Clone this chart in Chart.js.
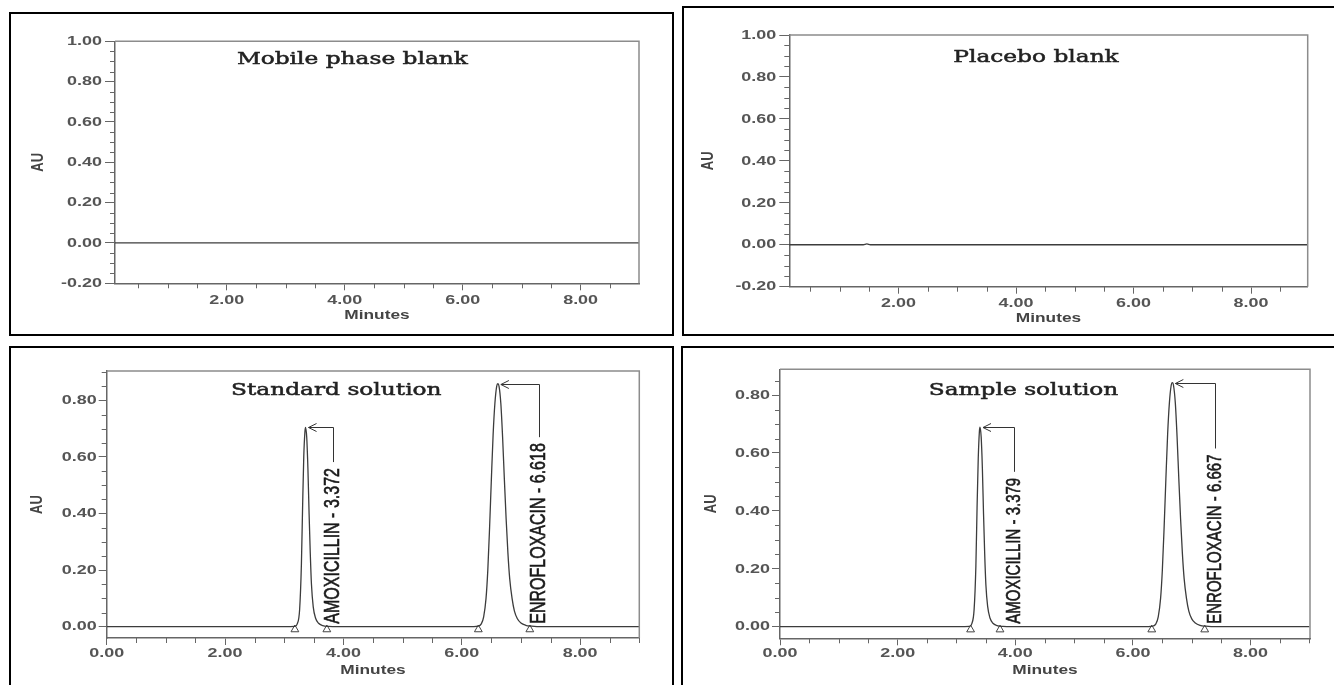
<!DOCTYPE html>
<html>
<head>
<meta charset="utf-8">
<title>Chromatograms</title>
<script src="https://cdn.jsdelivr.net/npm/chart.js@4/dist/chart.umd.min.js"></script>
<style>
  html, body { margin: 0; padding: 0; background: #fff; overflow: hidden; }
  body { width: 1334px; height: 685px; position: relative; }
  canvas { position: absolute; }
  .frame { position: absolute; border: 2px solid #000; box-sizing: border-box; pointer-events: none; }
</style>
</head>
<body>
<canvas id="c1" width="665" height="324" style="left:9px;top:12px"></canvas>
<canvas id="c2" width="652" height="329" style="left:682px;top:6px"></canvas>
<canvas id="c3" width="665" height="339" style="left:9px;top:346px"></canvas>
<canvas id="c4" width="653" height="339" style="left:681px;top:346px"></canvas>
<div class="frame" style="left:9px;top:12px;width:665px;height:324px"></div>
<div class="frame" style="left:682px;top:6px;width:700px;height:330px"></div>
<div class="frame" style="left:9px;top:346px;width:665px;height:400px"></div>
<div class="frame" style="left:681px;top:346px;width:700px;height:400px"></div>
<script>
// --- data -------------------------------------------------------------------

// tick labels
const TOP_X_TICKS = [2, 4, 6, 8];
const BOT_X_TICKS = [0, 2, 4, 6, 8];
const TOP_Y_TICKS = [-0.2, 0, 0.2, 0.4, 0.6, 0.8, 1.0];
const BOT_Y_TICKS = [0, 0.2, 0.4, 0.6, 0.8];

// mobile phase blank: flat trace
const MP_T  = [0, 9.0];
const MP_AU = [0, 0];

// placebo blank: flat with one tiny blip
const PB_T  = [0, 1.40, 1.46, 1.52, 9.0];
const PB_AU = [0, 0, 0.004, 0, 0];

// standard solution
const STD_T = [0, 3.00, 3.18, 3.22, 3.26, 3.29, 3.31, 3.33, 3.35, 3.36, 3.38, 3.40, 3.42, 3.44, 3.46, 3.49, 3.53, 3.58, 3.65, 3.75, 3.90,
  6.10, 6.28, 6.33, 6.37, 6.41, 6.44, 6.47, 6.50, 6.53, 6.56, 6.59, 6.61, 6.63, 6.66, 6.69, 6.72, 6.75, 6.78, 6.81, 6.85, 6.89, 6.94, 7.00, 7.08, 7.18, 7.35, 9.0];
const STD_AU = [0, 0, 0.001, 0.01, 0.06, 0.22, 0.42, 0.60, 0.69, 0.705, 0.67, 0.56, 0.40, 0.26, 0.15, 0.07, 0.03, 0.012, 0.004, 0.001, 0,
  0, 0.002, 0.01, 0.035, 0.10, 0.20, 0.35, 0.52, 0.68, 0.79, 0.85, 0.859, 0.85, 0.79, 0.67, 0.52, 0.38, 0.26, 0.17, 0.10, 0.055, 0.028, 0.013, 0.005, 0.002, 0, 0];
const STD_MARKS = [3.18, 3.72, 6.28, 7.15];
const STD_RT    = ['3.372', '6.618'];

// sample solution
const SMP_T = [0, 3.04, 3.22, 3.26, 3.30, 3.33, 3.35, 3.37, 3.39, 3.40, 3.42, 3.44, 3.46, 3.48, 3.50, 3.53, 3.57, 3.62, 3.69, 3.79, 3.94,
  6.16, 6.34, 6.39, 6.43, 6.47, 6.50, 6.53, 6.56, 6.59, 6.62, 6.65, 6.67, 6.69, 6.72, 6.75, 6.78, 6.81, 6.84, 6.87, 6.91, 6.95, 7.00, 7.06, 7.14, 7.24, 7.41, 9.0];
const SMP_AU = [0, 0, 0.001, 0.01, 0.06, 0.21, 0.41, 0.58, 0.675, 0.689, 0.655, 0.55, 0.39, 0.25, 0.145, 0.07, 0.03, 0.012, 0.004, 0.001, 0,
  0, 0.002, 0.01, 0.034, 0.098, 0.196, 0.343, 0.51, 0.666, 0.774, 0.833, 0.843, 0.833, 0.774, 0.657, 0.51, 0.372, 0.255, 0.167, 0.098, 0.054, 0.027, 0.013, 0.005, 0.002, 0, 0];
const SMP_MARKS = [3.24, 3.74, 6.32, 7.22];
const SMP_RT    = ['3.379', '6.667'];

const PEAK_NAMES = ['AMOXICILLIN', 'ENROFLOXACIN'];
const MARK_AU = -0.01;

// --- styles -----------------------------------------------------------------

const SX       = 1.33;               // the source picture is stretched sideways
const AXIS     = '#666';
const FRAME    = '#8c8c8c';
const TRACE    = '#3c3c3c';
const LABEL    = '#555';
const TICK_FONT  = 'bold 13.5px "Liberation Sans", Arial, sans-serif';
const AXIS_FONT  = 'bold 13px "Liberation Sans", Arial, sans-serif';
const TITLE_FONT = '17.5px "DejaVu Serif", serif';
const X_MINOR = 0.5, Y_MINOR = 0.05, MINOR_LEN = 5;

function stretchText(ctx, text, x, y, o) {
	ctx.save();
	ctx.font = o.font;
	ctx.fillStyle = o.color;
	ctx.textAlign = o.align || 'center';
	ctx.textBaseline = o.baseline || 'middle';
	ctx.translate(x, y);
	ctx.scale(SX, 1);
	if (o.rotate) ctx.rotate(-Math.PI / 2);
	ctx.fillText(text, 0, 0);
	if (o.heavy) {                      // slight emboldening like the scanned print
		ctx.strokeStyle = o.color;
		ctx.lineWidth = o.heavy;
		ctx.strokeText(text, 0, 0);
	}
	ctx.restore();
}

function isMajor(list, v) { return list.some(m => Math.abs(m - v) < 1e-6); }

function apexOf(t, au, lo, hi) {
	let best = { t: lo, au: -1 };
	t.forEach((x, i) => { if (x >= lo && x <= hi && au[i] > best.au) best = { t: x, au: au[i] }; });
	return best;
}

// --- decorations drawn over each chart ----------------------------------------

function decor(p) {
	return {
		id: 'decor-' + p.id,
		afterDraw(chart) {
			const ctx = chart.ctx, a = chart.chartArea;
			const xs = chart.scales.x, ys = chart.scales.y;

			ctx.save();
			// top and right frame of the plot
			ctx.strokeStyle = FRAME; ctx.lineWidth = 1.5;
			ctx.beginPath();
			ctx.moveTo(a.left, a.top); ctx.lineTo(a.right, a.top); ctx.lineTo(a.right, a.bottom);
			ctx.stroke();

			// minor ticks
			ctx.strokeStyle = AXIS; ctx.lineWidth = 1;
			ctx.beginPath();
			for (let k = Math.ceil(p.xMin / X_MINOR); k * X_MINOR <= p.xMax + 1e-9; k++) {
				const v = k * X_MINOR;
				if (isMajor(p.xTicks, v)) continue;
				const px = Math.round(xs.getPixelForValue(v)) + 0.5;
				ctx.moveTo(px, a.bottom); ctx.lineTo(px, a.bottom + MINOR_LEN);
			}
			for (let k = Math.ceil(p.yMin / Y_MINOR - 1e-9); k * Y_MINOR <= p.yMax + 1e-9; k++) {
				const v = Math.round(k * Y_MINOR * 1000) / 1000;
				if (isMajor(p.yTicks, v)) continue;
				const py = Math.round(ys.getPixelForValue(v)) + 0.5;
				ctx.moveTo(a.left - MINOR_LEN, py); ctx.lineTo(a.left, py);
			}
			ctx.stroke();
			ctx.restore();

			// tick labels
			p.xTicks.filter(v => v >= p.xMin && v <= p.xMax).forEach(v => {
				stretchText(ctx, v.toFixed(2), xs.getPixelForValue(v), a.bottom + p.xLabelDy, { font: TICK_FONT, color: LABEL });
			});
			p.yTicks.forEach(v => {
				stretchText(ctx, v.toFixed(2), a.left - p.yLabelGap, ys.getPixelForValue(v), { font: TICK_FONT, color: LABEL, align: 'right' });
			});

			// axis titles
			stretchText(ctx, 'Minutes', (a.left + a.right) / 2, a.bottom + 32, { font: AXIS_FONT, color: '#444' });
			stretchText(ctx, 'AU', a.left + p.auDx, (a.top + a.bottom) / 2, { font: AXIS_FONT, color: '#444', rotate: true });

			// panel title
			stretchText(ctx, p.title, xs.getPixelForValue(p.titleT), a.top + p.titleDy, { font: TITLE_FONT, color: '#222', heavy: 0.5 });

			// peak labels with leader arrows
			(p.rt || []).forEach((rt, i) => {
				const pk = apexOf(p.t, p.au, p.marks[2 * i], p.marks[2 * i + 1]);
				const ax = xs.getPixelForValue(pk.t), ay = ys.getPixelForValue(pk.au);
				const lx = Math.round(xs.getPixelForValue(p.labelT[i])) + 0.5;
				const base = ys.getPixelForValue(0);
				const text = PEAK_NAMES[i] + ' - ' + rt;
				ctx.save();
				ctx.font = p.peakFont;
				const len = ctx.measureText(text).width;
				ctx.restore();
				const bottom = base - 3, top = bottom - len;
				stretchText(ctx, text, lx, bottom, { font: p.peakFont, color: '#1a1a1a', align: 'left', rotate: true, heavy: 0.45 });

				ctx.save();
				ctx.strokeStyle = '#333'; ctx.lineWidth = 1;
				const tip = ax + 3, ly = Math.round(ay) + 0.5;
				ctx.beginPath();
				ctx.moveTo(lx, top - 6); ctx.lineTo(lx, ly); ctx.lineTo(tip, ly);
				ctx.moveTo(tip + 8, ly - 4); ctx.lineTo(tip, ly); ctx.lineTo(tip + 8, ly + 4);
				ctx.stroke();
				ctx.restore();
			});
		}
	};
}

function makePanel(p) {
	const canvas = document.getElementById(p.id);
	const datasets = [{
		data: p.t.map((t, i) => ({ x: t, y: p.au[i] })),
		borderColor: TRACE, borderWidth: 1.3, pointRadius: 0,
		cubicInterpolationMode: 'monotone', fill: false
	}];
	if (p.marks) {
		datasets.push({
			data: p.marks.map(t => ({ x: t, y: MARK_AU })),
			showLine: false, pointStyle: 'triangle', pointRadius: 4.5,
			borderColor: '#444', borderWidth: 1, backgroundColor: '#fff'
		});
	}
	return new Chart(canvas, {
		type: 'line',
		data: { datasets },
		options: {
			responsive: false, animation: false, devicePixelRatio: 1, events: [],
			layout: { padding: { left: 0, top: p.plot.top, right: canvas.width - p.plot.right, bottom: 0 } },
			plugins: { legend: { display: false }, tooltip: { enabled: false } },
			scales: {
				x: {
					type: 'linear', min: p.xMin, max: p.xMax,
					afterBuildTicks: s => { s.ticks = p.xTicks.filter(v => v >= p.xMin && v <= p.xMax).map(v => ({ value: v })); },
					afterFit: s => { s.height = canvas.height - p.plot.bottom; },
					ticks: { display: false },
					grid: { drawOnChartArea: false, drawTicks: true, tickLength: 7, color: AXIS },
					border: { color: AXIS, width: 1.5 }
				},
				y: {
					type: 'linear', min: p.yMin, max: p.yMax,
					afterBuildTicks: s => { s.ticks = p.yTicks.map(v => ({ value: v })); },
					afterFit: s => { s.width = p.plot.left; },
					ticks: { display: false },
					grid: { drawOnChartArea: false, drawTicks: true, tickLength: p.yTickLen, color: AXIS },
					border: { color: AXIS, width: 1.5 }
				}
			}
		},
		plugins: [decor(p)]
	});
}

makePanel({
	id: 'c1', t: MP_T, au: MP_AU, title: 'Mobile phase blank',
	plot: { left: 106, top: 29.3, right: 630, bottom: 271.3 },
	xMin: 0.105, xMax: 8.99, yMin: -0.2, yMax: 1.0,
	xTicks: TOP_X_TICKS, yTicks: TOP_Y_TICKS,
	titleT: 4.13, titleDy: 18, auDx: -77, yLabelGap: 13, yTickLen: 10, xLabelDy: 17
});
makePanel({
	id: 'c2', t: PB_T, au: PB_AU, title: 'Placebo blank',
	plot: { left: 107.3, top: 29, right: 625.7, bottom: 280.7 },
	xMin: 0.14, xMax: 8.965, yMin: -0.2, yMax: 1.0,
	xTicks: TOP_X_TICKS, yTicks: TOP_Y_TICKS,
	titleT: 4.34, titleDy: 22, auDx: -81, yLabelGap: 13, yTickLen: 10, xLabelDy: 17
});
makePanel({
	id: 'c3', t: STD_T, au: STD_AU, marks: STD_MARKS, rt: STD_RT, title: 'Standard solution',
	plot: { left: 97.7, top: 25, right: 630.3, bottom: 292 },
	xMin: 0, xMax: 9.0, yMin: -0.04, yMax: 0.904,
	xTicks: BOT_X_TICKS, yTicks: BOT_Y_TICKS,
	titleT: 3.88, titleDy: 19, auDx: -69, yLabelGap: 10, yTickLen: 8, xLabelDy: 15,
	labelT: [3.83, 7.31], peakFont: '16px "Liberation Sans", Arial, sans-serif'
});
makePanel({
	id: 'c4', t: SMP_T, au: SMP_AU, marks: SMP_MARKS, rt: SMP_RT, title: 'Sample solution',
	plot: { left: 99, top: 23.3, right: 629, bottom: 292.3 },
	xMin: 0, xMax: 9.01, yMin: -0.04, yMax: 0.889,
	xTicks: BOT_X_TICKS, yTicks: BOT_Y_TICKS,
	titleT: 4.14, titleDy: 21, auDx: -69, yLabelGap: 10, yTickLen: 8, xLabelDy: 15,
	labelT: [3.97, 7.39], peakFont: '15px "Liberation Sans", Arial, sans-serif'
});
</script>
</body>
</html>
